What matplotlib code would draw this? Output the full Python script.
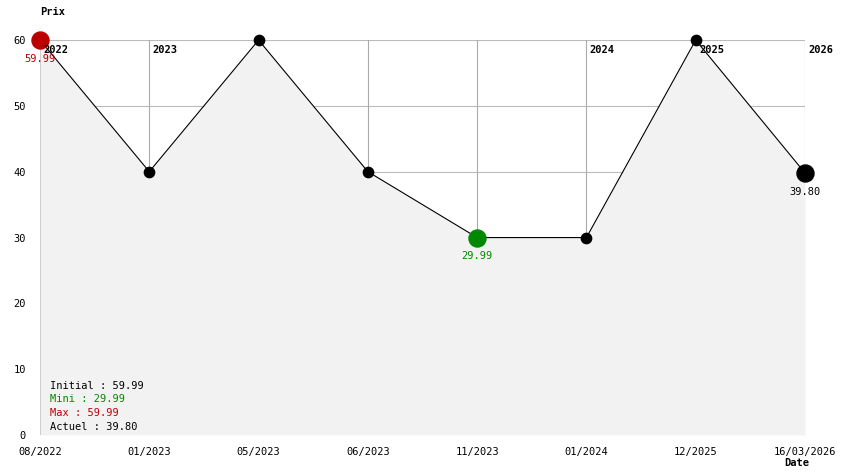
import matplotlib.pyplot as plt

# donnees de l'historique des prix
dates = ['08/2022', '01/2023', '05/2023', '06/2023', '11/2023', '01/2024', '12/2025', '16/03/2026']
prix = [59.99, 40, 59.99, 40, 29.99, 29.99, 59.99, 39.80]
annees = ['2022', '2023', '2024', '2025', '2026']
annees_pos = [0, 1, 5, 6, 7]
y_ticks = [0, 10, 20, 30, 40, 50, 60]

police = 'DejaVu Sans Mono'
plt.rcParams['font.family'] = police

fig = plt.figure(figsize=(8.44, 4.74), dpi=100)
ax = fig.add_axes([40 / 844, 39 / 474, 765 / 844, 395 / 474])

x = list(range(len(prix)))
i_min = prix.index(min(prix))
i_max = prix.index(max(prix))

# grille
for yt in y_ticks[1:]:
    ax.axhline(yt, color='#bbbbbb', lw=0.8, zorder=0)
for xi in x:
    ax.axvline(xi, color='#aaaaaa', lw=0.8, zorder=0)

ax.fill_between(x, prix, 0, color='#f2f2f2', zorder=1, lw=0)
ax.plot(x, prix, color='black', lw=0.8, zorder=2)
ax.scatter(x, prix, s=55, color='black', zorder=3, clip_on=False)

ax.scatter([i_max], [prix[i_max]], s=150, color='#bb0000', zorder=4, clip_on=False)
ax.scatter([i_min], [prix[i_min]], s=150, color='#008800', zorder=4, clip_on=False)
ax.scatter([x[-1]], [prix[-1]], s=150, color='black', zorder=4, clip_on=False)

ax.text(i_max, prix[i_max] - 2.1, f'{prix[i_max]:.2f}', color='#bb0000', ha='center', va='top', fontsize=7.5)
ax.text(i_min, prix[i_min] - 2.1, f'{prix[i_min]:.2f}', color='#008800', ha='center', va='top', fontsize=7.5)
ax.text(x[-1], prix[-1] - 2.1, f'{prix[-1]:.2f}', color='black', ha='center', va='top', fontsize=7.5)

for a, p in zip(annees, annees_pos):
    ax.text(p + 0.03, 59.2, a, fontweight='bold', ha='left', va='top', fontsize=7.5, zorder=5)

# resume
resume = [('Initial : %.2f' % prix[0], 'black'),
          ('Mini : %.2f' % min(prix), '#008800'),
          ('Max : %.2f' % max(prix), '#bb0000'),
          ('Actuel : %.2f' % prix[-1], 'black')]
for k, (t, c) in enumerate(resume):
    ax.text(0.09, 7.5 - k * 2.1, t, color=c, ha='left', va='center', fontsize=7.5)

ax.set_xlim(0, 7)
ax.set_ylim(0, 60)
ax.set_xticks(x)
ax.set_xticklabels(dates, fontsize=7.5)
ax.set_yticks(y_ticks)
ax.set_yticklabels([str(v) for v in y_ticks], fontsize=7.5)
ax.tick_params(length=0, pad=9)
ax.tick_params(axis='y', pad=10)
for s in ax.spines.values():
    s.set_visible(False)

fig.text(40 / 844, 1 - 12 / 474, 'Prix', fontweight='bold', fontsize=7.5, ha='left', va='center')
fig.text(797 / 844, 1 - 463 / 474, 'Date', fontweight='bold', fontsize=7.5, ha='center', va='center')

plt.savefig('out.png', dpi=100)
